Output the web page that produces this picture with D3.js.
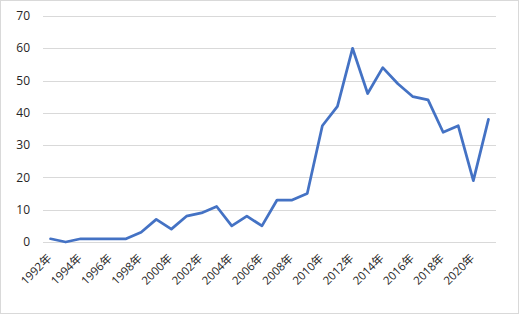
<!DOCTYPE html>
<html>
<head>
<meta charset="utf-8">
<script src="https://cdn.jsdelivr.net/npm/d3@7"></script>
<style>
  body { margin: 0; background: #fff; }
  text { font-family: "Open Sans", "Noto Sans CJK SC", sans-serif; fill: #262626; }
</style>
</head>
<body>
<div id="chart"></div>
<script>
'use strict';

// years on the x axis
const years = d3.range(1992, 2022);
// values per year
const counts = [1, 0, 1, 1, 1, 1, 3, 7, 4, 8, 9, 11, 5, 8, 5, 13, 13, 15, 36, 42, 60, 46, 54, 49, 45, 44, 34, 36, 19, 38];
const yTicks = [0, 10, 20, 30, 40, 50, 60, 70];

const width = 519, height = 314;
const margin = { top: 16, right: 23, bottom: 72, left: 43 };

const svg = d3.select('#chart').append('svg')
    .attr('width', width)
    .attr('height', height);

// outer chart border
svg.append('rect')
    .attr('x', 0.5).attr('y', 0.5)
    .attr('width', width - 1).attr('height', height - 1)
    .attr('fill', '#fff')
    .attr('stroke', '#d9d9d9');

const x = d3.scaleBand().domain(years).range([margin.left, width - margin.right]);
const y = d3.scaleLinear().domain([0, 70]).range([height - margin.bottom, margin.top]);

// gridlines
svg.append('g')
    .selectAll('line')
    .data(yTicks)
    .enter().append('line')
    .attr('x1', margin.left)
    .attr('x2', width - margin.right)
    .attr('y1', d => Math.round(y(d)) + 0.5)
    .attr('y2', d => Math.round(y(d)) + 0.5)
    .attr('stroke', '#d9d9d9')
    .attr('stroke-width', 1);

// y labels
svg.append('g')
    .selectAll('text')
    .data(yTicks)
    .enter().append('text')
    .attr('x', margin.left - 13)
    .attr('y', d => y(d))
    .attr('dy', '0.35em')
    .attr('text-anchor', 'end')
    .style('font-size', '12px')
    .text(d => d);

// x labels, every other year
svg.append('g')
    .selectAll('text')
    .data(years.filter((d, i) => i % 2 === 0))
    .enter().append('text')
    .attr('transform', d => 'translate(' + (x(d) + x.bandwidth() / 2 - 1) + ',' + (height - margin.bottom + 14) + ') rotate(-45)')
    .attr('text-anchor', 'end')
    .attr('dy', '0.35em')
    .style('font-size', '11.5px')
    .text(d => d + '年');

const line = d3.line()
    .x((d, i) => x(years[i]) + x.bandwidth() / 2)
    .y(d => y(d));

svg.append('path')
    .datum(counts)
    .attr('d', line)
    .attr('fill', 'none')
    .attr('stroke', '#4472c4')
    .attr('stroke-width', 2.75)
    .attr('stroke-linejoin', 'round')
    .attr('stroke-linecap', 'round');
</script>
</body>
</html>
